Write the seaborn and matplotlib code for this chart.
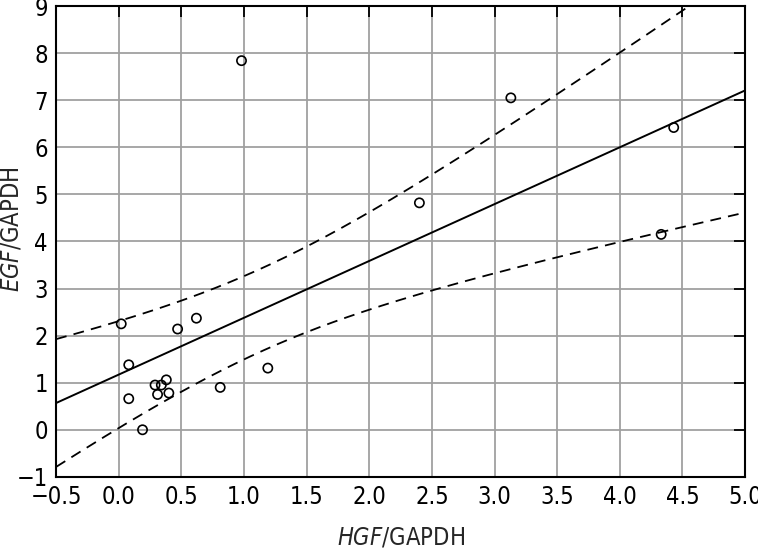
import numpy as np
import pandas as pd
import seaborn as sns
import matplotlib.pyplot as plt

hgf = [0.98, 3.13, 4.43, 2.40, 4.33, 0.02, 0.62, 0.47, 0.08,
       1.19, 0.38, 0.29, 0.34, 0.81, 0.31, 0.40, 0.08, 0.19]
egf = [7.84, 7.05, 6.42, 4.82, 4.15, 2.25, 2.37, 2.14, 1.38,
       1.31, 1.06, 0.95, 0.95, 0.90, 0.75, 0.78, 0.66, 0.00]
x_ticks = [-0.5, 0.0, 0.5, 1.0, 1.5, 2.0, 2.5, 3.0, 3.5, 4.0, 4.5, 5.0]
y_ticks = [-1, 0, 1, 2, 3, 4, 5, 6, 7, 8, 9]

df = pd.DataFrame({'hgf': hgf, 'egf': egf})

# least squares fit and 95% confidence band of the mean
x = df['hgf'].to_numpy()
y = df['egf'].to_numpy()
n = len(x)
slope, intercept = np.polyfit(x, y, 1)
resid = y - (slope * x + intercept)
s = np.sqrt(np.sum(resid ** 2) / (n - 2))
sxx = np.sum((x - x.mean()) ** 2)
t_crit = 2.12
xx = np.linspace(-0.5, 5.0, 200)
fit = slope * xx + intercept
half = t_crit * s * np.sqrt(1 / n + (xx - x.mean()) ** 2 / sxx)
band = pd.DataFrame({'x': xx, 'fit': fit, 'lo': fit - half, 'hi': fit + half})

sns.set_style('white')
plt.rcParams['font.family'] = ['DejaVu Sans']
plt.rcParams['font.stretch'] = 'condensed'
plt.rcParams['mathtext.fontset'] = 'custom'
plt.rcParams['mathtext.rm'] = 'DejaVu Sans:stretch=condensed'
plt.rcParams['mathtext.it'] = 'DejaVu Sans:italic:stretch=condensed'

fig = plt.figure(figsize=(7.58, 5.5), dpi=100)
ax = fig.add_axes([0.074, 0.133, 0.909, 0.856])

sns.lineplot(data=band, x='x', y='fit', color='black', lw=1.4, ax=ax)
sns.lineplot(data=band, x='x', y='hi', color='black', lw=1.3,
             linestyle=(0, (6, 4)), ax=ax)
sns.lineplot(data=band, x='x', y='lo', color='black', lw=1.3,
             linestyle=(0, (6, 4)), ax=ax)
sns.scatterplot(data=df, x='hgf', y='egf', marker='o', facecolor='none',
                edgecolor='black', linewidth=1.2, s=44, ax=ax, zorder=5)

ax.set_xlim(-0.5, 5.0)
ax.set_ylim(-1, 9)
ax.set_xticks(x_ticks)
ax.set_xticklabels([f'{v:.1f}'.replace('-', '\u2212') for v in x_ticks])
ax.set_yticks(y_ticks)
ax.set_yticklabels([str(v).replace('-', '\u2212') for v in y_ticks])
ax.grid(True, color='#a0a0a0', lw=1.3)
ax.set_axisbelow(True)
ax.tick_params(direction='in', length=8, width=1.3, top=True, right=True,
               labelsize=17, colors='black', pad=6)
for sp in ax.spines.values():
    sp.set_color('black')
    sp.set_linewidth(1.5)

ax.set_xlabel(r'$HGF$/GAPDH', fontsize=17, labelpad=12)
ax.set_ylabel(r'$EGF$/GAPDH', fontsize=17)
ax.yaxis.set_label_coords(-0.047, 0.525)

fig.savefig('out.png', dpi=100)
